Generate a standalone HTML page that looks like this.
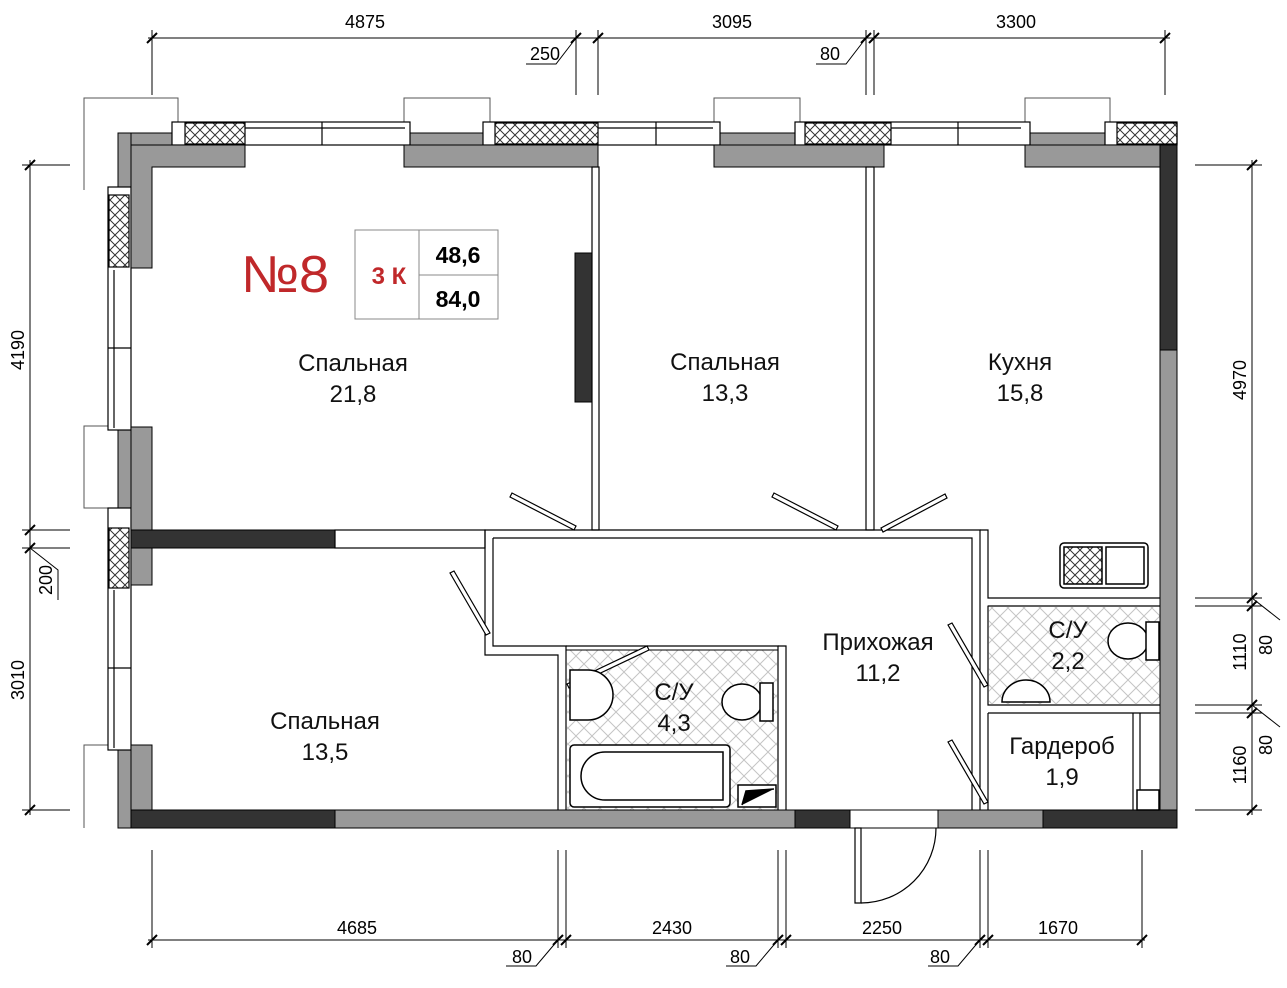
<!DOCTYPE html>
<html><head><meta charset="utf-8"><style>
html,body{margin:0;padding:0;background:#fff}
svg{display:block}
text{font-family:"Liberation Sans",sans-serif}
</style></head><body>
<svg width="1287" height="988" viewBox="0 0 1287 988" xmlns="http://www.w3.org/2000/svg">
<defs>
<pattern id="h" width="16" height="16" patternUnits="userSpaceOnUse">
<path d="M0 0L16 16M16 0L0 16" stroke="#c4c4c4" stroke-width="1" fill="none"/>
</pattern>
<pattern id="w" width="10" height="10" patternUnits="userSpaceOnUse">
<path d="M0 0L10 10M10 0L0 10" stroke="#333" stroke-width="1" fill="none"/>
</pattern>
</defs>
<g stroke="#000" stroke-width="1" fill="none">
<line x1="148" y1="38" x2="1170" y2="38"/>
<line x1="152" y1="30" x2="152" y2="95"/>
<line x1="576" y1="30" x2="576" y2="95"/>
<line x1="598" y1="30" x2="598" y2="95"/>
<line x1="866" y1="30" x2="866" y2="95"/>
<line x1="874" y1="30" x2="874" y2="95"/>
<line x1="1165" y1="30" x2="1165" y2="95"/>
<path d="M147 43l10-10M571 43l10-10M593 43l10-10M861 43l10-10M869 43l10-10M1160 43l10-10" stroke-width="2"/>
<path d="M576 38l-20 26h-30M866 38l-20 26h-30"/>
<line x1="148" y1="940" x2="1145" y2="940"/>
<line x1="152" y1="850" x2="152" y2="948"/>
<line x1="558" y1="850" x2="558" y2="948"/>
<line x1="566" y1="850" x2="566" y2="948"/>
<line x1="778" y1="850" x2="778" y2="948"/>
<line x1="786" y1="850" x2="786" y2="948"/>
<line x1="980" y1="850" x2="980" y2="948"/>
<line x1="988" y1="850" x2="988" y2="948"/>
<line x1="1142" y1="850" x2="1142" y2="948"/>
<path d="M147 945l10-10M553 945l10-10M561 945l10-10M773 945l10-10M781 945l10-10M975 945l10-10M983 945l10-10M1137 945l10-10" stroke-width="2"/>
<path d="M558 940l-22 26h-30M778 940l-22 26h-30M980 940l-22 26h-30"/>
<line x1="30" y1="160" x2="30" y2="815"/>
<line x1="22" y1="165" x2="70" y2="165"/>
<line x1="22" y1="530" x2="70" y2="530"/>
<line x1="22" y1="548" x2="70" y2="548"/>
<line x1="22" y1="810" x2="70" y2="810"/>
<path d="M25 170l10-10M25 535l10-10M25 553l10-10M25 815l10-10" stroke-width="2"/>
<path d="M30 548l28 22v30"/>
<line x1="1252" y1="160" x2="1252" y2="815"/>
<line x1="1195" y1="165" x2="1262" y2="165"/>
<line x1="1195" y1="598" x2="1262" y2="598"/>
<line x1="1195" y1="606" x2="1262" y2="606"/>
<line x1="1195" y1="705" x2="1262" y2="705"/>
<line x1="1195" y1="713" x2="1262" y2="713"/>
<line x1="1195" y1="810" x2="1262" y2="810"/>
<path d="M1247 170l10-10M1247 603l10-10M1247 611l10-10M1247 710l10-10M1247 718l10-10M1247 815l10-10" stroke-width="2"/>
<path d="M1252 598l28 22M1252 705l28 22"/>
</g>
<g font-size="18" fill="#000">
<text x="365" y="28" text-anchor="middle">4875</text>
<text x="545" y="60" text-anchor="middle">250</text>
<text x="732" y="28" text-anchor="middle">3095</text>
<text x="830" y="60" text-anchor="middle">80</text>
<text x="1016" y="28" text-anchor="middle">3300</text>
<text x="357" y="934" text-anchor="middle">4685</text>
<text x="672" y="934" text-anchor="middle">2430</text>
<text x="882" y="934" text-anchor="middle">2250</text>
<text x="1058" y="934" text-anchor="middle">1670</text>
<text x="522" y="963" text-anchor="middle">80</text>
<text x="740" y="963" text-anchor="middle">80</text>
<text x="940" y="963" text-anchor="middle">80</text>
<text transform="translate(24 350) rotate(-90)" text-anchor="middle">4190</text>
<text transform="translate(52 580) rotate(-90)" text-anchor="middle">200</text>
<text transform="translate(24 680) rotate(-90)" text-anchor="middle">3010</text>
<text transform="translate(1246 380) rotate(-90)" text-anchor="middle">4970</text>
<text transform="translate(1246 652) rotate(-90)" text-anchor="middle">1110</text>
<text transform="translate(1272 645) rotate(-90)" text-anchor="middle">80</text>
<text transform="translate(1246 765) rotate(-90)" text-anchor="middle">1160</text>
<text transform="translate(1272 745) rotate(-90)" text-anchor="middle">80</text>
</g>
<g stroke="#555" fill="none">
<path d="M84 190V98H178V122"/>
<path d="M404 122V98H490V122"/>
<path d="M714 122V98H800V122"/>
<path d="M1025 122V98H1110V122"/>
<path d="M108 426H84V508H108"/>
<path d="M108 745H84V828"/>
</g>
<g fill="#999" stroke="#000">
<rect x="118" y="133" width="1058" height="12"/>
<rect x="118" y="133" width="13" height="695"/>
</g>
<g stroke="#000" stroke-width="1.2">
<rect x="172" y="122" width="238" height="23" fill="#fff"/>
<rect x="185" y="123" width="60" height="21" fill="url(#w)"/>
<rect x="483" y="122" width="237" height="23" fill="#fff"/>
<rect x="495" y="123" width="103" height="21" fill="url(#w)"/>
<rect x="795" y="122" width="235" height="23" fill="#fff"/>
<rect x="805" y="123" width="86" height="21" fill="url(#w)"/>
<rect x="1105" y="122" width="72" height="23" fill="#fff"/>
<rect x="1117" y="123" width="60" height="21" fill="url(#w)"/>
<path d="M322 122v23M656 122v23M958 122v23M245 128h160M598 128h115M891 128h130" fill="none"/>
</g>
<g stroke="#000" stroke-width="1.2">
<rect x="108" y="187" width="23" height="243" fill="#fff"/>
<rect x="109" y="195" width="20" height="72" fill="url(#w)"/>
<rect x="108" y="508" width="23" height="242" fill="#fff"/>
<rect x="109" y="528" width="20" height="60" fill="url(#w)"/>
<path d="M108 348h23M108 668h23M114 270v158M114 590v158" fill="none"/>
</g>
<g fill="#999" stroke="#000">
<path d="M131 145H245V167H152V268H131Z"/>
<rect x="404" y="145" width="194" height="22"/>
<rect x="714" y="145" width="170" height="22"/>
<rect x="1025" y="145" width="135" height="22"/>
<rect x="131" y="427" width="21" height="158"/>
<rect x="131" y="745" width="21" height="65"/>
<rect x="1160" y="350" width="17" height="478"/>
<rect x="131" y="810" width="664" height="18"/>
<rect x="938" y="810" width="105" height="18"/>
</g>
<g fill="#333" stroke="#000">
<rect x="1160" y="145" width="17" height="205"/>
<rect x="131" y="810" width="204" height="18"/>
<rect x="795" y="810" width="55" height="18"/>
<rect x="1043" y="810" width="134" height="18"/>
<rect x="131" y="530" width="204" height="18"/>
<rect x="575" y="253" width="23" height="149"/>
</g>
<path d="M850 810H938M850 828H938" stroke="#000" fill="none"/>
<g fill="#fff" stroke="#000" stroke-width="1.2">
<rect x="335" y="530" width="150" height="18"/>
<rect x="592" y="167" width="7" height="363"/>
<rect x="866" y="167" width="8" height="363"/>
</g>
<g fill="none" stroke="#000" stroke-width="1.2">
<path d="M485 548V530H980V810"/>
<path d="M493 538H972V810"/>
<path d="M485 548V655H558V810M493 538V646H566V810"/>
<path d="M566 646H778V810"/>
<path d="M778 646H786V810"/>
<path d="M980 530H988V598H1160M988 606H1160M988 606V705H1160M988 713H1160M988 713V810"/>
<path d="M1133 713V810M1140 713V790"/>
</g>
<rect x="566" y="650" width="212" height="160" fill="url(#h)" stroke="#000"/>
<rect x="988" y="606" width="172" height="99" fill="url(#h)" stroke="#000"/>
<g stroke="#000" stroke-width="1.2" fill="#fff">
<path d="M510 497l64 33l2-4l-64-33z"/>
<path d="M772 497l64 33l2-4l-64-33z"/>
<path d="M945 494l-64 34l2 4l64-34z"/>
<path d="M450 573l36 62l4-2l-36-62z"/>
<path d="M948 625l36 62l4-2l-36-62z"/>
<path d="M948 742l36 62l4-2l-36-62z"/>
<path d="M647 646l-80 38l2 4l80-38z"/>
<path d="M855 828v75h6v-75z"/>
<path d="M861 903A75 75 0 0 0 936 828" fill="none"/>
</g>
<g stroke="#000" stroke-width="1.5" fill="#fff">
<path d="M570 670h18a25 25 0 0 1 0 50h-18z"/>
<ellipse cx="742" cy="702" rx="20" ry="18"/>
<rect x="760" y="683" width="13" height="38"/>
<rect x="570" y="745" width="160" height="62" rx="4"/>
<path d="M605 752h118v48h-118a24 24 0 0 1 0-48z"/>
<rect x="738" y="785" width="38" height="22"/>
<path d="M742 805l4-14 28-2" fill="#000"/>
<ellipse cx="1128" cy="641" rx="20" ry="18"/>
<rect x="1146" y="622" width="13" height="38"/>
<path d="M1002 702a24 22 0 0 1 48 0z"/>
<rect x="1060" y="543" width="88" height="45" rx="4"/>
<rect x="1064" y="547" width="38" height="37" fill="url(#w)"/>
<rect x="1106" y="547" width="38" height="37"/>
<rect x="1137" y="790" width="22" height="20"/>
</g>
<g stroke="#888" fill="none">
<rect x="355" y="230" width="143" height="89"/>
<line x1="419" y1="230" x2="419" y2="319"/>
<line x1="419" y1="275" x2="498" y2="275"/>
</g>
<text x="285" y="292" font-size="52" fill="#c0282a" text-anchor="middle" textLength="88" lengthAdjust="spacingAndGlyphs">№8</text>
<text x="389" y="284" font-size="24" font-weight="bold" fill="#c0282a" text-anchor="middle">3 К</text>
<text x="458" y="263" font-size="23" font-weight="bold" text-anchor="middle">48,6</text>
<text x="458" y="307" font-size="23" font-weight="bold" text-anchor="middle">84,0</text>
<g font-size="24" text-anchor="middle" fill="#111">
<text x="353" y="371">Спальная</text><text x="353" y="402">21,8</text>
<text x="725" y="370">Спальная</text><text x="725" y="401">13,3</text>
<text x="1020" y="370">Кухня</text><text x="1020" y="401">15,8</text>
<text x="325" y="729">Спальная</text><text x="325" y="760">13,5</text>
<text x="878" y="650">Прихожая</text><text x="878" y="681">11,2</text>
<text x="674" y="700">С/У</text><text x="674" y="731">4,3</text>
<text x="1068" y="638">С/У</text><text x="1068" y="669">2,2</text>
<text x="1062" y="754">Гардероб</text><text x="1062" y="785">1,9</text>
</g>
</svg>
</body></html>
